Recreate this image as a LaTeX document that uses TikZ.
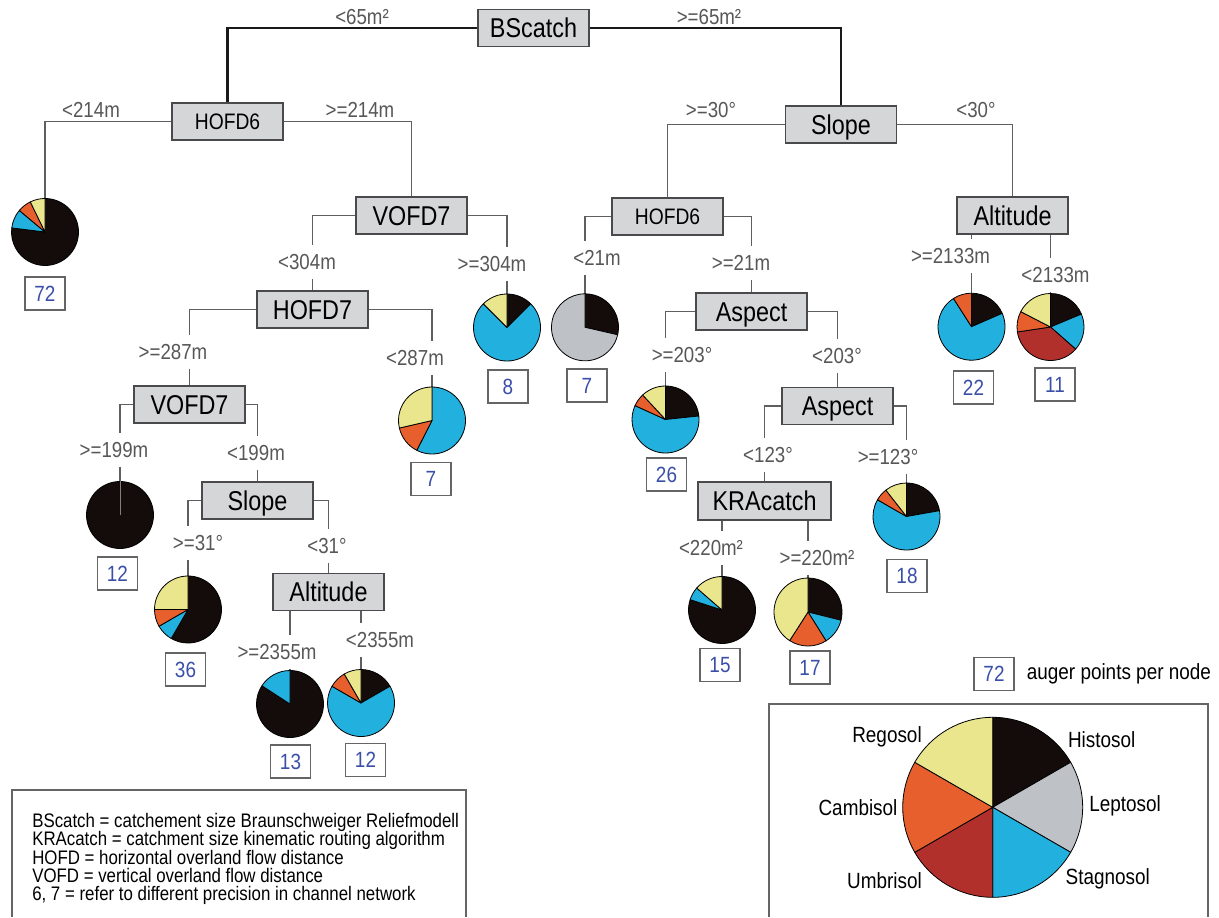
\documentclass[tikz,border=0pt]{standalone}
\usepackage{fontspec}
\setmainfont{Liberation Sans}[FakeStretch=0.86]
\definecolor{cblack}{HTML}{140C0B}
\definecolor{cgrey}{HTML}{BEC2C6}
\definecolor{cblue}{HTML}{22B0DE}
\definecolor{cred}{HTML}{B1302C}
\definecolor{corange}{HTML}{E65F2C}
\definecolor{cyellow}{HTML}{EAE68D}
\definecolor{boxfill}{HTML}{D5D6D8}
\definecolor{boxline}{HTML}{4A4A4C}
\definecolor{linegray}{HTML}{5E5F61}
\definecolor{labelgray}{HTML}{575757}
\definecolor{numblue}{HTML}{3A4FA8}
\newcommand\myfbig{\fontsize{20.4}{24}\selectfont}
\newcommand\myfhofd{\fontsize{16.8}{20}\selectfont}
\newcommand\myflbl{\fontsize{16.3}{19}\selectfont}
\newcommand\myfnum{\fontsize{16.5}{19}\selectfont}
\newcommand\myfleg{\fontsize{14.7}{17}\selectfont}
\newcommand\myfsoil{\fontsize{16.5}{19}\selectfont}
\newcommand\slc[5]{\filldraw[fill=#5,draw=black,line width=0.6pt,line join=round] (#1.center) -- ++(#3:#2) arc[start angle=#3,end angle=#4,radius=#2] -- cycle;}
\newcommand\cutedge[3]{\draw[conn] (#1) -| (#2.north -| #3.north); \draw[conn] (#2.south -| #3.north) -- (#3.north);}
\begin{document}
\begin{tikzpicture}[x=0.75pt,y=0.75pt,
  tbox/.style={draw=boxline,fill=boxfill,line width=1.1pt,minimum width=83.25pt,minimum height=27.75pt,inner sep=0pt,text height=14.6pt,text depth=0pt,font=\myfbig},
  sbox/.style={tbox,font=\myfhofd,text height=12pt},
  numbox/.style={draw=boxline!85,line width=0.9pt,fill=white,minimum width=30pt,minimum height=24.75pt,inner sep=0pt,text height=11.8pt,text depth=0pt,text=numblue,font=\myfnum},
  pienode/.style={circle,inner sep=0pt,minimum size=50.25pt},
  conn/.style={draw=linegray,line width=0.9pt},
  mainconn/.style={draw=black!90,line width=2.2pt},
  toplabel/.style={text=labelgray,font=\myflbl,inner sep=0pt},
  cutlabel/.style={text=labelgray,font=\myflbl,inner sep=0pt,text height=11.7pt,text depth=0pt,minimum height=24.75pt},
  framec/.style={draw=boxline!85,line width=0.9pt},
  legtext/.style={font=\myfleg,anchor=base west,inner sep=0pt},
  soiltext/.style={font=\myfsoil,anchor=base,inner sep=0pt}
]
\useasboundingbox (0,0) rectangle (1219,-917);

% ---------- decision boxes ----------
\node[tbox] (bs) at (533.5,-28) {BScatch};
\node[sbox] (hofd6a) at (227.5,-121.5) {HOFD6};
\node[tbox] (vofd7a) at (411.5,-215.5) {VOFD7};
\node[tbox] (hofd7) at (312.5,-309.5) {HOFD7};
\node[tbox] (vofd7b) at (189.5,-404.5) {VOFD7};
\node[tbox] (slope2) at (257.5,-500.5) {Slope};
\node[tbox] (alt2) at (328.5,-592) {Altitude};
\node[tbox] (slope1) at (841,-124.5) {Slope};
\node[sbox] (hofd6b) at (667.5,-216.5) {HOFD6};
\node[tbox] (alt1) at (1012.5,-215.5) {Altitude};
\node[tbox] (asp1) at (751.5,-311.5) {Aspect};
\node[tbox] (asp2) at (837.5,-406) {Aspect};
\node[tbox,minimum width=99.75pt,minimum height=28.5pt] (kra) at (764.5,-501) {KRAcatch};

% ---------- pie nodes ----------
\node[pienode] (p72) at (45,-232) {};
\node[pienode] (p7a) at (432,-420.5) {};
\node[pienode] (p12a) at (120,-515) {};
\node[pienode] (p36) at (188,-609.5) {};
\node[pienode] (p13) at (290,-704) {};
\node[pienode] (p12b) at (361,-703) {};
\node[pienode] (p8) at (507,-327.5) {};
\node[pienode] (p7b) at (585,-327.3) {};
\node[pienode] (p26) at (665.5,-419.5) {};
\node[pienode] (p18) at (906.5,-516.5) {};
\node[pienode] (p15) at (722,-610) {};
\node[pienode] (p17) at (808,-612) {};
\node[pienode] (p22) at (971.5,-326.7) {};
\node[pienode] (p11) at (1050.5,-327) {};

% ---------- top labels ----------
\node[toplabel] (lt65a) at (362,-17) {<65m²};
\node[toplabel] (lt65b) at (709,-17) {>=65m²};
\node[toplabel] (l214a) at (91,-110) {<214m};
\node[toplabel] (l214b) at (360,-110) {>=214m};
\node[toplabel] (l30a) at (711,-110) {>=30°};
\node[toplabel] (l30b) at (976,-110) {<30°};

% ---------- cut labels ----------
\node[cutlabel] (l304a) at (307,-262) {<304m};
\node[cutlabel] (l304b) at (492,-264) {>=304m};
\node[cutlabel] (l287a) at (173,-352) {>=287m};
\node[cutlabel] (l287b) at (415,-358) {<287m};
\node[cutlabel] (l199a) at (114,-450) {>=199m};
\node[cutlabel] (l199b) at (256,-453) {<199m};
\node[cutlabel] (l31a) at (198,-543) {>=31°};
\node[cutlabel] (l31b) at (327,-546) {<31°};
\node[cutlabel] (l2355a) at (277,-652) {>=2355m};
\node[cutlabel] (l2355b) at (380,-640) {<2355m};
\node[cutlabel] (l21a) at (597,-258) {<21m};
\node[cutlabel] (l21b) at (741,-263) {>=21m};
\node[cutlabel] (l203a) at (682,-355) {>=203°};
\node[cutlabel] (l203b) at (837,-356) {<203°};
\node[cutlabel] (l123a) at (768,-455) {<123°};
\node[cutlabel] (l123b) at (888,-457) {>=123°};
\node[cutlabel] (l220a) at (711,-548) {<220m²};
\node[cutlabel] (l220b) at (817,-558) {>=220m²};
\node[cutlabel] (l2133a) at (950.5,-256) {>=2133m};
\node[cutlabel] (l2133b) at (1055.5,-275) {<2133m};

% ---------- connectors ----------
\draw[mainconn] (bs.west) -| (hofd6a.north);
\draw[mainconn] (bs.east) -| (slope1.north);
\draw[conn] (hofd6a.west) -| (p72.north);
\draw[conn] (hofd6a.east) -| (vofd7a.north);
\draw[conn] (slope1.west) -| (hofd6b.north);
\draw[conn] (slope1.east) -| (alt1.north);
\cutedge{vofd7a.west}{l304a}{hofd7}
\cutedge{vofd7a.east}{l304b}{p8}
\cutedge{hofd7.west}{l287a}{vofd7b}
\cutedge{hofd7.east}{l287b}{p7a}
\cutedge{vofd7b.west}{l199a}{p12a}
\cutedge{vofd7b.east}{l199b}{slope2}
\cutedge{slope2.west}{l31a}{p36}
\cutedge{slope2.east}{l31b}{alt2}
\cutedge{alt2.south -| p13.north}{l2355a}{p13}
\cutedge{alt2.south -| p12b.north}{l2355b}{p12b}
\cutedge{hofd6b.west}{l21a}{p7b}
\cutedge{hofd6b.east}{l21b}{asp1}
\cutedge{asp1.west}{l203a}{p26}
\cutedge{asp1.east}{l203b}{asp2}
\cutedge{asp2.west}{l123a}{kra}
\cutedge{asp2.east}{l123b}{p18}
\cutedge{kra.south -| p15.north}{l220a}{p15}
\cutedge{kra.south -| p17.north}{l220b}{p17}
\cutedge{alt1.south -| p22.north}{l2133a}{p22}
\cutedge{alt1.south -| p11.north}{l2133b}{p11}

% ---------- pies ----------
\slc{p72}{33.5}{90}{-187}{cblack}
\slc{p72}{33.5}{-187}{-220}{cblue}
\slc{p72}{33.5}{-220}{-244}{corange}
\slc{p72}{33.5}{-244}{-270}{cyellow}

\slc{p7a}{33.5}{90}{-117}{cblue}
\slc{p7a}{33.5}{-117}{-167}{corange}
\slc{p7a}{33.5}{-167}{-270}{cyellow}

\filldraw[fill=cblack,draw=black,line width=0.6pt] (p12a.center) circle[radius=33.5];
\draw[gray,line width=0.4pt] (p12a.center) -- (p12a.north);

\slc{p36}{33.5}{90}{-120}{cblack}
\slc{p36}{33.5}{-120}{-150}{cblue}
\slc{p36}{33.5}{-150}{-180}{corange}
\slc{p36}{33.5}{-180}{-270}{cyellow}

\slc{p13}{33.5}{90}{-213}{cblack}
\slc{p13}{33.5}{-213}{-270}{cblue}

\slc{p12b}{33.5}{90}{30}{cblack}
\slc{p12b}{33.5}{30}{-210}{cblue}
\slc{p12b}{33.5}{-210}{-240}{corange}
\slc{p12b}{33.5}{-240}{-270}{cyellow}

\slc{p8}{33.5}{90}{45}{cblack}
\slc{p8}{33.5}{45}{-225}{cblue}
\slc{p8}{33.5}{-225}{-270}{cyellow}

\slc{p7b}{33.5}{90}{-12.9}{cblack}
\slc{p7b}{33.5}{-12.9}{-270}{cgrey}

\slc{p26}{33.5}{90}{6}{cblack}
\slc{p26}{33.5}{6}{-204.5}{cblue}
\slc{p26}{33.5}{-204.5}{-227}{corange}
\slc{p26}{33.5}{-227}{-270}{cyellow}

\slc{p18}{33.5}{90}{10}{cblack}
\slc{p18}{33.5}{10}{-210}{cblue}
\slc{p18}{33.5}{-210}{-232}{corange}
\slc{p18}{33.5}{-232}{-270}{cyellow}

\slc{p15}{33.5}{90}{-198}{cblack}
\slc{p15}{33.5}{-198}{-221}{cblue}
\slc{p15}{33.5}{-221}{-270}{cyellow}

\slc{p17}{34}{90}{-14}{cblack}
\slc{p17}{34}{-14}{-58}{cblue}
\slc{p17}{34}{-58}{-122.7}{corange}
\slc{p17}{34}{-122.7}{-270}{cyellow}

\slc{p22}{33.5}{90}{23.5}{cblack}
\slc{p22}{33.5}{23.5}{-237.4}{cblue}
\slc{p22}{33.5}{-237.4}{-270}{corange}

\slc{p11}{33.5}{90}{22.7}{cblack}
\slc{p11}{33.5}{22.7}{-41.4}{cblue}
\slc{p11}{33.5}{-41.4}{-171.5}{cred}
\slc{p11}{33.5}{-171.5}{-207.3}{corange}
\slc{p11}{33.5}{-207.3}{-270}{cyellow}

% ---------- count boxes ----------
\node[numbox] (n72) at (45,-293.5) {72};
\node[numbox] (n7a) at (431,-479) {7};
\node[numbox] (n12a) at (117.5,-573.5) {12};
\node[numbox] (n36) at (185.5,-669.5) {36};
\node[numbox] (n13) at (290.5,-761.5) {13};
\node[numbox] (n12b) at (365.5,-760) {12};
\node[numbox] (n8) at (508,-386.5) {8};
\node[numbox] (n7b) at (587,-385.5) {7};
\node[numbox] (n26) at (666.5,-474.5) {26};
\node[numbox] (n18) at (907,-576) {18};
\node[numbox] (n15) at (720,-665) {15};
\node[numbox] (n17) at (810,-667.5) {17};
\node[numbox] (n22) at (973.5,-387.5) {22};
\node[numbox] (n11) at (1055,-384.5) {11};

% ---------- legend: count ----------
\node[numbox] (nleg) at (994,-674) {72};
\node[font=\myfnum,anchor=base west,inner sep=0pt] (nlegtxt) at (1026.6,-679.3) {auger points per node};

% ---------- legend: abbreviations ----------
\draw[framec] (12,-917) -- (12,-790) -- (466,-790) -- (466,-917);
\node[legtext] (t1) at (32,-827.3) {BScatch = catchement size Braunschweiger Reliefmodell};
\node[legtext] (t2) at (32,-845.7) {KRAcatch = catchment size kinematic routing algorithm};
\node[legtext] (t3) at (32,-864) {HOFD = horizontal overland flow distance};
\node[legtext] (t4) at (32,-882.3) {VOFD = vertical overland flow distance};
\node[legtext] (t5) at (32,-900.7) {6, 7 = refer to different precision in channel network};

% ---------- legend: soils ----------
\draw[framec] (769,-917) -- (769,-704) -- (1208,-704) -- (1208,-917);
\node[circle,inner sep=0pt,minimum size=135pt] (soil) at (992.7,-807.3) {};
\slc{soil}{90}{90}{30}{cblack}
\slc{soil}{90}{30}{-30}{cgrey}
\slc{soil}{90}{-30}{-90}{cblue}
\slc{soil}{90}{-90}{-150}{cred}
\slc{soil}{90}{-150}{-210}{corange}
\slc{soil}{90}{-210}{-270}{cyellow}
\node[soiltext] (sreg) at (887,-742.7) {Regosol};
\node[soiltext] (shis) at (1101.7,-747.3) {Histosol};
\node[soiltext] (slep) at (1125,-811.7) {Leptosol};
\node[soiltext] (scam) at (858,-815.7) {Cambisol};
\node[soiltext] (sumb) at (884.5,-888.3) {Umbrisol};
\node[soiltext] (ssta) at (1107.7,-884.3) {Stagnosol};
\end{tikzpicture}
\end{document}
